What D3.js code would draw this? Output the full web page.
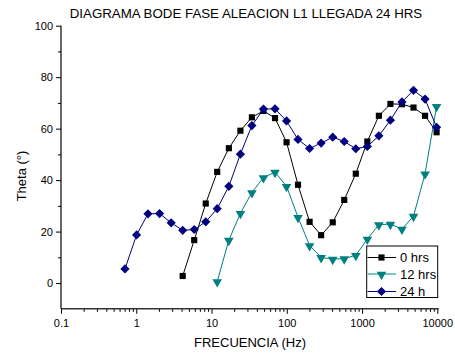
<!DOCTYPE html>
<html>
<head>
<meta charset="utf-8">
<script src="https://cdn.jsdelivr.net/npm/d3@7"></script>
<style>
  html, body { margin: 0; padding: 0; background: #fff; }
  svg { display: block; font-family: "Liberation Sans", Arial, sans-serif; }
</style>
</head>
<body>
<svg id="chart" width="455" height="358"></svg>
<script>
// ---- Data ----
const freq = [0.708, 1.01, 1.43, 2.04, 2.91, 4.14, 5.89, 8.38, 11.9, 17.0, 24.2, 34.4, 49.0, 69.8,
              99.3, 141, 201, 286, 408, 580, 826, 1176, 1674, 2383, 3392, 4829, 6874, 9785];
const theta0h  = [null, null, null, null, null, 2.75, 16.7, 30.9, 43.2, 52.4, 59.2, 64.4, 66.9, 64.1,
                  54.7, 38.2, 23.8, 18.6, 23.6, 32.3, 42.5, 55.0, 65.0, 69.6, 69.5, 68.2, 65.0, 58.6];
const theta12h = [null, null, null, null, null, null, null, null, 0.6, 16.7, 27.1, 35.2, 41.0, 43.1,
                  37.6, 25.6, 14.6, 10.0, 9.3, 9.5, 10.8, 17.1, 22.7, 22.9, 21.0, 26.0, 42.5, 68.7];
const theta24h = [5.5, 18.7, 26.9, 27.0, 23.4, 20.5, 20.8, 23.8, 28.9, 37.6, 50.1, 61.2, 67.6, 67.7,
                  63.0, 55.8, 52.3, 54.4, 56.7, 55.0, 52.2, 53.1, 57.2, 63.3, 70.4, 74.9, 71.5, 60.5];
const seriesNames = ["0 hrs", "12 hrs", "24 h"];
const seriesColors = ["#000000", "#008080", "#000080"];
const xTicks = [0.1, 1, 10, 100, 1000, 10000];
const xTickLabels = ["0.1", "1", "10", "100", "1000", "10000"];
const yTicks = [0, 20, 40, 60, 80, 100];
const yMinorTicks = [10, 30, 50, 70, 90];
const titleText = "DIAGRAMA BODE FASE ALEACION L1 LLEGADA 24 HRS";
const xLabel = "FRECUENCIA (Hz)";
const yLabel = "Theta (°)";

(function () {
// ---- Layout ----
const svg = d3.select("#chart");
const pLeft = 61, pRight = 437.3, pTop = 25.7, pBottom = 308.8;

const x = d3.scaleLog().domain([0.1, 10000]).range([pLeft, pRight]);
const y = d3.scaleLinear().domain([-10, 100]).range([pBottom, pTop]);

// minor x ticks
const xMinor = [];
for (let d = 0.1; d < 10000; d *= 10) {
  for (let k = 2; k <= 9; k++) xMinor.push(+(d * k).toPrecision(3));
}

// X axis
const gx = svg.append("g").attr("transform", `translate(0,${pBottom})`);
gx.call(d3.axisBottom(x).tickValues(xMinor).tickSize(3).tickFormat(""))
  .call(g => g.select(".domain").remove());
const gxMaj = svg.append("g").attr("transform", `translate(0,${pBottom})`);
gxMaj.call(d3.axisBottom(x).tickValues(xTicks).tickSize(5).tickPadding(5)
    .tickFormat((d, i) => xTickLabels[i]))
  .call(g => g.select(".domain").remove());
gxMaj.selectAll("text").attr("font-size", 11).attr("fill", "#000").attr("font-family", "Liberation Sans, Arial, sans-serif");
svg.append("line").attr("x1", pLeft).attr("x2", pRight + 1.5).attr("y1", pBottom).attr("y2", pBottom)
  .attr("stroke", "#333").attr("stroke-width", 1.6);

// Y axis
const gyMin = svg.append("g").attr("transform", `translate(${pLeft},0)`);
gyMin.call(d3.axisLeft(y).tickValues(yMinorTicks).tickSize(3).tickFormat(""))
  .call(g => g.select(".domain").remove());
const gy = svg.append("g").attr("transform", `translate(${pLeft},0)`);
gy.call(d3.axisLeft(y).tickValues(yTicks).tickSize(5).tickPadding(3))
  .call(g => g.select(".domain").remove());
gy.selectAll("text").attr("font-size", 11).attr("fill", "#000").attr("font-family", "Liberation Sans, Arial, sans-serif");
svg.selectAll("g .tick line").attr("stroke", "#000");
svg.append("line").attr("x1", pLeft).attr("x2", pLeft).attr("y1", pTop).attr("y2", pBottom)
  .attr("stroke", "#000").attr("stroke-width", 1.2);

// Title and labels
svg.append("text").attr("x", 246).attr("y", 17.5).attr("text-anchor", "middle")
  .attr("font-size", 13.3).attr("fill", "#000").text(titleText);
svg.append("text").attr("x", 250).attr("y", 347).attr("text-anchor", "middle")
  .attr("font-size", 13).attr("fill", "#000").text(xLabel);
svg.append("text").attr("transform", "translate(26,176) rotate(-90)").attr("text-anchor", "middle")
  .attr("font-size", 13).attr("fill", "#000").text(yLabel);

// Series
const allSeries = [theta0h, theta12h, theta24h];
const symbols = [d3.symbolSquare, d3.symbolTriangle, d3.symbolSquare];
const symSizes = [38, 40, 42];
const line = d3.line()
  .defined(d => d.v !== null)
  .x(d => x(d.f)).y(d => y(d.v));

function markerPath(k) {
  return d3.symbol().type(symbols[k]).size(symSizes[k])();
}
function markerTransform(k, px, py) {
  if (k === 1) return `translate(${px},${py + 0.5}) rotate(180)`;
  if (k === 2) return `translate(${px},${py}) rotate(45)`;
  return `translate(${px},${py})`;
}

allSeries.forEach((vals, k) => {
  const pts = freq.map((f, i) => ({ f, v: vals[i] }));
  const g = svg.append("g");
  g.append("path").datum(pts).attr("d", line)
    .attr("fill", "none").attr("stroke", seriesColors[k]).attr("stroke-width", 1);
  g.selectAll("path.m").data(pts.filter(d => d.v !== null)).join("path")
    .attr("class", "m")
    .attr("d", markerPath(k))
    .attr("transform", d => markerTransform(k, x(d.f), y(d.v)))
    .attr("fill", seriesColors[k]);
});

// Legend
const lg = svg.append("g");
lg.append("rect").attr("x", 366.7).attr("y", 246).attr("width", 71).attr("height", 51.5)
  .attr("fill", "#fff").attr("stroke", "#000").attr("stroke-width", 1);
const legendRows = [257.5, 274, 291.5];
const legendLineColors = ["#000000", "#5fb3b3", "#000080"];
seriesNames.forEach((name, k) => {
  const yy = legendRows[k];
  lg.append("line").attr("x1", 367.5).attr("x2", 396).attr("y1", yy).attr("y2", yy)
    .attr("stroke", legendLineColors[k]).attr("stroke-width", k === 1 ? 1.6 : 1);
  lg.append("path").attr("d", markerPath(k))
    .attr("transform", markerTransform(k, 381.5, yy)).attr("fill", seriesColors[k]);
  lg.append("text").attr("x", 400).attr("y", yy + 4.5).attr("font-size", 13)
    .attr("fill", "#000").text(name);
});
})();
</script>
</body>
</html>
